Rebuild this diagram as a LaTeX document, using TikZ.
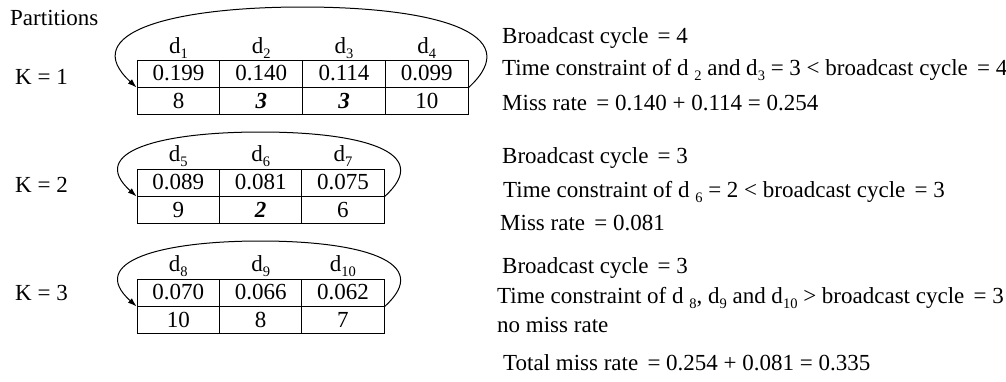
\documentclass[tikz,border=0pt]{standalone}
\usepackage{fontspec}
\setmainfont{Liberation Serif}
\usetikzlibrary{arrows.meta}
\newcommand\dsub[1]{\raisebox{-0.22em}{\fontsize{14.5}{14.5}\selectfont #1}}
\newcommand\bfit[1]{\textbf{\textit{#1}}}
\newcommand\gap{\hspace{0.15em}}
\begin{document}
\begin{tikzpicture}[x=1pt,y=-1pt,
  every node/.style={font=\fontsize{23}{27}\selectfont, inner sep=0pt},
  cell/.style={draw, line width=1pt, minimum width=82.75pt, minimum height=27pt},
  loopline/.style={line width=1pt, -{Latex[length=9pt,width=6pt]}},
  lbl/.style={anchor=west}]
\useasboundingbox (0,0) rectangle (1006,381);
% left labels
\node[lbl] (part) at (10,18) {Partitions};
\node[lbl] (k1) at (15,77) {K = 1};
\node[lbl] (k2) at (15,185) {K = 2};
\node[lbl] (k3) at (15,293) {K = 3};
% table 1
\foreach \v [count=\i] in {1,2,3,4}
  \node (ha\i) at ({178.5+82.75*(\i-1)},48) {d\dsub{\v}};
\foreach \v [count=\i] in {0.199,0.140,0.114,0.099}
  \node[cell] (a\i) at ({178.5+82.75*(\i-1)},73.5) {\v};
\foreach \v [count=\i] in {8,{\bfit{3}},{\bfit{3}},10}
  \node[cell] (b\i) at ({178.5+82.75*(\i-1)},100.5) {\v};
% table 2
\foreach \v [count=\i] in {5,6,7}
  \node (hc\i) at ({178.3+82.33*(\i-1)},156) {d\dsub{\v}};
\foreach \v [count=\i] in {0.089,0.081,0.075}
  \node[cell, minimum width=82.33pt] (c\i) at ({178.3+82.33*(\i-1)},182.5) {\v};
\foreach \v [count=\i] in {9,{\bfit{2}},6}
  \node[cell, minimum width=82.33pt] (e\i) at ({178.3+82.33*(\i-1)},210) {\v};
% table 3
\foreach \v [count=\i] in {8,9,10}
  \node (hf\i) at ({178.3+82.33*(\i-1)},266) {d\dsub{\v}};
\foreach \v [count=\i] in {0.070,0.066,0.062}
  \node[cell, minimum width=82.33pt] (f\i) at ({178.3+82.33*(\i-1)},292.5) {\v};
\foreach \v [count=\i] in {10,8,7}
  \node[cell, minimum width=82.33pt] (g\i) at ({178.3+82.33*(\i-1)},320) {\v};
% loops
\coordinate (top1) at (302.5,7);
\coordinate (top2) at (260.5,132);
\coordinate (top3) at (260.5,241);
\draw[loopline] (a4.south east) .. controls +(60,-55) and +(130,0) .. (top1)
  .. controls +(-130,0) and +(-60,-55) .. (a1.south west);
\draw[loopline] (c3.south east) .. controls +(50,-45) and +(100,0) .. (top2)
  .. controls +(-100,0) and +(-50,-45) .. (c1.south west);
\draw[loopline] (f3.south east) .. controls +(50,-45) and +(100,0) .. (top3)
  .. controls +(-100,0) and +(-50,-45) .. (f1.south west);
% right texts
\node[lbl] (r1) at (502,38) {Broadcast cycle\gap{} = 4};
\node[lbl] (r2) at (502,70) {Time constraint of d \dsub{2} and d\dsub{3} = 3 < broadcast cycle\gap{} = 4};
\node[lbl] (r3) at (502,103) {Miss rate\gap{} = 0.140 + 0.114 = 0.254};
\node[lbl] (s1) at (502,158) {Broadcast cycle\gap{} = 3};
\node[lbl] (s2) at (503,192) {Time constraint of d \dsub{6} = 2 < broadcast cycle\gap{} = 3};
\node[lbl] (s3) at (500,223) {Miss rate\gap{} = 0.081};
\node[lbl] (u1) at (502,268) {Broadcast cycle\gap{} = 3};
\node[lbl] (u2) at (497,298) {Time constraint of d \dsub{8}, d\dsub{9} and d\dsub{10} > broadcast cycle\gap{} = 3};
\node[lbl] (u3) at (497,325) {no miss rate};
\node[lbl] (u4) at (503,363) {Total miss rate\gap{} = 0.254 + 0.081 = 0.335};
\end{tikzpicture}
\end{document}
